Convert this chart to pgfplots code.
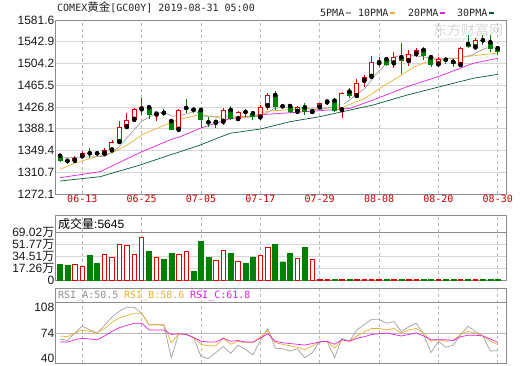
\documentclass[border=0pt]{standalone}
\usepackage{pgfplots}
\pgfplotsset{compat=1.18}
\usepackage{pgfplotstable}
\usepackage{fontspec}
\setmainfont{Liberation Sans}
\newfontfamily\cjk{Noto Sans CJK SC}
\newfontfamily\mono{DejaVu Sans Mono}

\definecolor{cred}{RGB}{220,0,0}
\definecolor{cgreen}{RGB}{0,128,0}
\definecolor{ma5}{RGB}{160,160,160}
\definecolor{ma10}{RGB}{232,176,48}
\definecolor{ma20}{RGB}{224,32,224}
\definecolor{ma30}{RGB}{0,96,48}
\definecolor{frame}{RGB}{140,140,140}
\definecolor{gridc}{RGB}{215,215,215}
\definecolor{xlab}{RGB}{204,0,0}

% candles: index, open, high, low, close
\pgfplotstableread{
i o h l c
2 1331.3 1339.2 1327.2 1336.1
3 1339.2 1348.1 1337.9 1345.0
6 1343.8 1353.9 1341.5 1349.8
7 1349.8 1367.6 1348.1 1364.6
8 1364.6 1401.4 1362.8 1391.3
9 1391.3 1416.2 1389.5 1403.2
10 1404.3 1425.1 1403.2 1423.8
11 1422.8 1442.3 1412.6 1426.3
13 1413.5 1418.0 1401.4 1414.9
16 1386.5 1423.3 1385.9 1421.5
21 1398.9 1403.7 1389.0 1400.2
22 1400.7 1424.5 1394.8 1421.5
24 1405.5 1420.3 1403.7 1417.4
27 1408.5 1430.4 1403.7 1427.4
28 1428.6 1451.2 1421.5 1448.2
32 1418.5 1428.6 1415.6 1426.3
34 1418.0 1421.5 1415.6 1419.2
35 1426.3 1434.0 1425.1 1433.4
36 1435.2 1439.3 1430.4 1436.6
38 1421.5 1454.1 1406.8 1451.2
40 1446.4 1476.1 1445.2 1469.0
41 1473.6 1483.8 1463.0 1479.7
42 1480.7 1517.6 1479.7 1506.4
43 1505.1 1515.3 1498.5 1506.4
45 1504.6 1525.2 1495.7 1516.3
47 1508.7 1528.2 1499.8 1520.6
48 1521.1 1531.3 1516.3 1528.2
51 1502.8 1515.3 1500.3 1511.7
54 1501.6 1534.1 1500.3 1531.3
56 1533.0 1549.6 1531.3 1546.0
}\redc

\pgfplotstableread{
i o h l c
0 1340.2 1342.4 1329.6 1331.3
1 1331.2 1333.1 1325.5 1329.9
4 1344.5 1353.9 1336.1 1343.3
5 1344.5 1348.6 1339.7 1342.9
12 1426.3 1428.1 1405.5 1412.6
14 1416.5 1423.8 1410.3 1415.3
15 1402.0 1403.7 1385.1 1385.9
17 1425.1 1440.5 1415.6 1423.8
18 1422.1 1425.6 1415.6 1421.0
19 1421.5 1426.3 1389.0 1403.7
20 1399.6 1409.6 1391.8 1398.4
23 1421.5 1428.6 1403.7 1405.5
25 1418.0 1422.8 1409.6 1416.7
26 1415.6 1420.3 1403.7 1408.5
29 1448.2 1455.8 1421.5 1426.3
30 1428.1 1430.4 1422.8 1426.9
31 1428.6 1430.4 1415.6 1418.5
33 1426.3 1433.4 1412.6 1417.4
37 1438.1 1442.3 1418.5 1420.3
39 1454.1 1460.1 1442.3 1446.4
44 1511.7 1513.5 1500.3 1501.6
46 1515.3 1540.7 1485.6 1508.7
49 1528.2 1533.0 1510.5 1517.6
50 1515.3 1519.3 1498.5 1501.6
52 1511.0 1511.7 1502.8 1509.6
53 1507.4 1510.5 1498.5 1502.8
55 1538.9 1554.9 1531.3 1533.0
57 1545.5 1554.9 1537.7 1544.2
58 1541.9 1554.9 1525.2 1530.9
59 1531.3 1534.1 1519.3 1523.8
}\greenc

% volume (10k units)
\pgfplotstableread{
i v
2 22.5
3 20.1
6 36.9
7 33.1
8 51.3
9 50.3
10 36.9
11 61.4
13 32.6
16 36.9
17 41.7
21 28.8
22 43.1
24 27.3
27 35.9
28 47.0
32 31.2
34 30.2
35 0.6
36 0.6
38 0.6
40 0.6
41 0.6
42 0.6
43 0.6
45 0.6
47 0.6
48 0.6
51 0.6
54 0.6
56 0.6
}\redv

\pgfplotstableread{
i v
0 23.0
1 21.6
4 35.9
5 24.4
12 41.7
14 30.2
15 38.4
18 12.9
19 56.1
20 32.1
23 38.4
25 24.0
26 33.1
29 51.3
30 26.3
31 38.4
33 47.0
37 0.6
39 0.6
44 0.6
46 0.6
49 0.6
50 0.6
52 0.6
53 0.6
55 0.6
57 0.6
58 0.6
59 0.6
}\greenv

\pgfplotsset{
  panel/.style={
    scale only axis, width=450.5pt, xmin=-0.61, xmax=60.11,
    axis line style={draw=frame, line width=0.8pt},
    tick style={draw=none}, major tick length=0pt,
    xtick={3,11,19,27,35,43,51,59},
    xmajorgrids,
    x grid style={draw=gray!55, dash pattern=on 3pt off 3pt, line width=0.6pt},
    y grid style={draw=gridc, line width=0.6pt},
    yticklabel style={font=\fontsize{12}{12}\selectfont, inner sep=1pt, text=black!90},
  },
}

\begin{document}
\begin{tikzpicture}
\path[use as bounding box] (0,0) rectangle (520pt,365pt);

% watermark
\node[anchor=west, inner sep=0, text=gray!30, font=\cjk\fontsize{14}{14}\selectfont] at (433pt,335pt) {东方财富网};
\node[anchor=west, inner sep=0, text=gray!30, font=\fontsize{7}{7}\selectfont] at (440pt,324pt) {eastmoney.com};

% ---------- main candlestick panel ----------
\begin{axis}[panel, at={(55.5pt,171pt)}, anchor=south west, height=174pt,
  ymin=1272.1, ymax=1581.6,
  ytick={1272.1,1310.7,1349.4,1388.1,1426.8,1465.5,1504.2,1542.9,1581.6},
  yticklabels={1272.1,1310.7,1349.4,1388.1,1426.8,1465.5,1504.2,1542.9,1581.6},
  ymajorgrids,
  xticklabels={06-13,06-25,07-05,07-17,07-29,08-08,08-20,08-30},
  xticklabel style={font=\mono\fontsize{10}{10}\selectfont, text=xlab, inner sep=1pt},
]
% moving averages
\addplot[ma30, line width=0.7pt] coordinates {(0,1295.2) (5.4,1302.9) (10.8,1323.7) (14.8,1341.5) (16.2,1347.3) (18.9,1359.3) (22.9,1380.1) (27,1387.7) (31,1400.7) (35,1409.6) (39.1,1421.5) (42.2,1430.4) (46.8,1448.2) (51.2,1463.0) (55.7,1477.9) (59,1485.0)};
\addplot[ma20, line width=0.7pt] coordinates {(0,1301.1) (5.4,1311.8) (10.8,1345.9) (14.8,1368.2) (16.2,1374.0) (18.9,1389.0) (22.9,1406.0) (27,1413.0) (31,1416.7) (35,1420.3) (39.1,1424.5) (42.2,1439.3) (46.8,1463.0) (51.2,1482.0) (55.7,1504.6) (59,1513.5)};
\addplot[ma10, line width=0.7pt] coordinates {(0,1316.0) (2.0,1327.2) (5.1,1339.2) (7.0,1345.0) (9.2,1360.4) (11.1,1377.6) (13.7,1392.5) (15.9,1404.3) (18.9,1413.2) (21.6,1407.3) (25.6,1408.5) (27.9,1419.2) (31,1422.1) (34.6,1423.8) (37.7,1426.3) (38.4,1428.0) (41.1,1442.3) (43.8,1465.9) (46.05,1483.8) (47.8,1498.5) (50.1,1510.5) (53.2,1513.5) (56.4,1519.3) (58.85,1522.4)};
\addplot[ma5, line width=0.7pt] coordinates {(0,1336.1) (6.1,1339.2) (7.8,1353.9) (9.2,1374.7) (11,1401.4) (12.8,1414.4) (13.9,1418.0) (15.2,1410.3) (16.6,1413.2) (18.2,1419.2) (19.5,1410.3) (22.9,1410.8) (27,1410.0) (29,1425.1) (31,1426.9) (35,1421.5) (38.4,1433.4) (41.1,1460.1) (42.5,1483.8) (43.8,1501.6) (45.1,1516.3) (46.5,1519.3) (48.7,1516.3) (50.5,1513.5) (53.6,1513.5) (55.5,1519.3) (57.3,1531.3) (58.9,1534.1)};

% red candles: wick, body outline, hollow inside
\addplot[only marks, mark=none, error bars/.cd, y dir=both, y explicit, error mark=none,
  error bar style={draw=cred, line width=0.9pt, solid}]
  table[x=i, y=o, y error plus expr=\thisrow{h}-\thisrow{o}, y error minus expr=\thisrow{o}-\thisrow{l}] {\redc};
\addplot[only marks, mark=none, error bars/.cd, y dir=plus, y explicit, error mark=none,
  error bar style={draw=cred, line width=5pt, solid}]
  table[x=i, y=o, y error plus expr={max(\thisrow{c}-\thisrow{o},1.8)}] {\redc};
\addplot[only marks, mark=none, error bars/.cd, y dir=plus, y explicit, error mark=none,
  error bar style={draw=white, line width=3.2pt, solid}]
  table[x=i, y expr=\thisrow{o}+1.7, y error plus expr={max(\thisrow{c}-\thisrow{o}-3.4,0)}] {\redc};
% green candles
\addplot[only marks, mark=none, error bars/.cd, y dir=both, y explicit, error mark=none,
  error bar style={draw=cgreen, line width=0.9pt, solid}]
  table[x=i, y=o, y error plus expr=\thisrow{h}-\thisrow{o}, y error minus expr=\thisrow{o}-\thisrow{l}] {\greenc};
\addplot[only marks, mark=none, error bars/.cd, y dir=minus, y explicit, error mark=none,
  error bar style={draw=cgreen, line width=5pt, solid}]
  table[x=i, y=o, y error minus expr={max(\thisrow{o}-\thisrow{c},1.8)}] {\greenc};
\end{axis}

% ---------- volume panel ----------
\begin{axis}[panel, at={(55.5pt,85pt)}, anchor=south west, height=65pt,
  ymin=0, ymax=93.5,
  ytick={0,17.26,34.51,51.77},
  yticklabels={0,17.26{\cjk 万},34.51{\cjk 万},51.77{\cjk 万}},
  ymajorgrids,
  extra y ticks={69.02}, extra y tick labels={69.02{\cjk 万}},
  extra y tick style={y grid style={draw=frame, line width=0.8pt}},
  xticklabels={},
]
\addplot[ybar, bar shift=0pt, bar width=4.4pt, draw=cred, fill=white, line width=0.8pt] table[x=i, y=v] {\redv};
\addplot[ybar, bar shift=0pt, bar width=5pt, draw=cgreen, fill=cgreen, line width=0.4pt] table[x=i, y=v] {\greenv};
\end{axis}

% ---------- RSI panel ----------
\begin{axis}[panel, at={(55.5pt,1.7pt)}, anchor=south west, height=75pt,
  ymin=33.8, ymax=133.2,
  ytick={40,108}, yticklabels={40,108},
  extra y ticks={74}, extra y tick labels={74},
  extra y tick style={ymajorgrids=true, y grid style={draw=gray!55, line width=0.7pt}},
  xticklabels={},
]
\draw[frame, line width=0.7pt] (rel axis cs:0,0.817) -- (rel axis cs:1,0.817);
\addplot[ma5, line width=0.7pt] coordinates {(0,66) (1,64) (2,74) (3,83) (4,78) (5,74) (6,84) (7,95) (8,103) (9,108) (10,108) (11,100) (12,85) (13,85) (14,84) (15,41) (16,73) (17,72) (18,68) (19,43) (20,40) (21,48) (22,56) (23,47) (24,58) (25,52) (26,45) (27,64) (28,80) (29,54) (30,53) (31,50) (32,53) (33,41) (34,48) (35,63) (36,63) (37,41) (38,67) (39,63) (40,78) (41,85) (42,92) (43,92) (44,87) (45,89) (46,76) (47,82) (48,87) (49,72) (50,48) (51,63) (52,55) (53,58) (54,72) (55,83) (56,76) (57,70) (58,50) (59,50.5)};
\addplot[ma10, line width=0.7pt] coordinates {(0,70) (1,69) (2,74) (3,78) (4,76) (5,74) (6,80) (7,88) (8,94) (9,97) (10,100) (11,100) (12,85) (13,85) (14,85) (15,61) (16,73) (17,72) (18,68) (19,59) (20,57) (21,57) (22,67) (23,59) (24,63) (25,61) (26,61) (27,69) (28,77) (29,61) (30,59) (31,57) (32,55) (33,52) (34,57) (35,62) (36,63) (37,54) (38,65) (39,63) (40,70) (41,75) (42,80) (43,80) (44,78) (45,80) (46,74) (47,78) (48,80) (49,74) (50,63) (51,65) (52,63) (53,64) (54,72) (55,76) (56,74) (57,70) (58,63) (59,58.6)};
\addplot[ma20, line width=0.7pt] coordinates {(0,62) (1,62) (2,65) (3,67) (4,66) (5,65) (6,70) (7,76) (8,81) (9,84) (10,87) (11,87) (12,78) (13,78) (14,78) (15,72) (16,73) (17,72) (18,68) (19,63) (20,62) (21,62) (22,67) (23,63) (24,64) (25,62) (26,62) (27,67) (28,73) (29,63) (30,61) (31,60) (32,59) (33,58) (34,60) (35,62) (36,63) (37,59) (38,65) (39,63) (40,67) (41,69) (42,72) (43,73) (44,74) (45,72) (46,70) (47,72) (48,74) (49,70) (50,65) (51,65) (52,65) (53,64) (54,69) (55,71) (56,71) (57,70) (58,66) (59,61.8)};
\end{axis}

% ---------- texts ----------
\node[anchor=west, inner sep=0, text=black!85] at (57pt,357.5pt)
  {\mono\fontsize{10}{10}\selectfont COMEX{\cjk\fontsize{11.5}{11.5}\selectfont 黄金}[GC00Y] 2019-08-31 05:00};
\newcommand{\sw}[1]{\textcolor{#1}{\rule[2.2pt]{5pt}{2.6pt}}}
\node[anchor=west, inner sep=0, text=black!85, font=\mono\fontsize{10}{10}\selectfont] at (320pt,352pt) {5PMA\,\sw{ma5}};
\node[anchor=west, inner sep=0, text=black!85, font=\mono\fontsize{10}{10}\selectfont] at (358pt,352pt) {10PMA\,\sw{ma10}};
\node[anchor=west, inner sep=0, text=black!85, font=\mono\fontsize{10}{10}\selectfont] at (408pt,352pt) {20PMA\,\sw{ma20}};
\node[anchor=west, inner sep=0, text=black!85, font=\mono\fontsize{10}{10}\selectfont] at (457pt,352pt) {30PMA\,\sw{ma30}};

\node[anchor=west, inner sep=0, text=black] at (58pt,141pt) {{\cjk\fontsize{12}{12}\selectfont 成交量}\fontsize{12}{12}\selectfont :5645};

\node[anchor=west, inner sep=0, font=\mono\fontsize{10}{10}\selectfont, text=ma5!90!black] at (58pt,69pt) {RSI\_A:50.5};
\node[anchor=west, inner sep=0, font=\mono\fontsize{10}{10}\selectfont, text=ma10] at (124pt,69pt) {RSI\_B:58.6};
\node[anchor=west, inner sep=0, font=\mono\fontsize{10}{10}\selectfont, text=ma20] at (190pt,69pt) {RSI\_C:61.8};
\end{tikzpicture}
\end{document}
